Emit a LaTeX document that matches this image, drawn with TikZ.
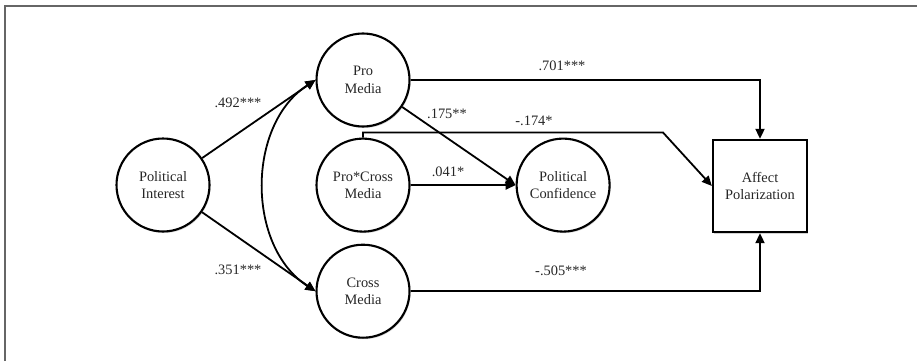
\documentclass[tikz,border=0pt]{standalone}
\usepackage{fontspec}
\setmainfont{Liberation Serif}
\usepackage{tikz}
\usetikzlibrary{arrows.meta,positioning,shadows}

\begin{document}
\begin{tikzpicture}[
    x=1pt, y=-1pt,
    font=\fontsize{14.4}{17.5}\selectfont,
    latent/.style={draw, circle, line width=2.1pt, minimum size=93pt, inner sep=0pt, align=center, fill=white,
        text=black!85, drop shadow={shadow xshift=1pt, shadow yshift=-1.5pt, opacity=0.35}},
    outcome/.style={draw, rectangle, line width=2.3pt, minimum width=94pt, minimum height=92pt, align=center, fill=white,
        text=black!85, drop shadow={shadow xshift=1pt, shadow yshift=-1.5pt, opacity=0.35}},
    arrow/.style={-{Triangle[length=10pt,width=9pt]}, line width=1.8pt},
    coef/.style={inner sep=1pt, text=black!85}
]
    \useasboundingbox (0,0) rectangle (917,361);
    \draw[line width=1.7pt, gray!80!black] (5,361) -- (5,6) -- (917,6);

    \node[latent] (interest) at (163,185) {Political\\Interest};
    \node[latent] (pro) at (363,80) {Pro\\Media};
    \node[latent, below=10pt of pro] (procross) {Pro*Cross\\Media};
    \node[latent, below=11pt of procross] (cross) {Cross\\Media};
    \node[latent, right=105pt of procross] (confidence) {Political\\Confidence};
    \node[outcome] (affect) at (760,186) {Affect\\Polarization};

    \coordinate (kink) at (663,132.5);

    \draw[arrow] (interest) -- (pro.west);
    \draw[arrow] (interest) -- (cross.west);
    \draw[{Triangle[length=10pt,width=9pt]}-{Triangle[length=10pt,width=9pt]}, line width=1.8pt]
        (pro.west) to[bend right=57] (cross.west);
    \draw[arrow] (pro.east) -| (affect.north);
    \draw[arrow] (pro) -- (confidence.west);
    \draw[arrow] (procross) -- (confidence);
    \draw[arrow] (procross.north) -- ++(0,-5) -- (kink) -- (affect.west);
    \draw[arrow] (cross.east) -| (affect.south);

    \node[coef] (c492) at (238,103) {.492***};
    \node[coef] (c351) at (238,270) {.351***};
    \node[coef] (c701) at (562,66) {.701***};
    \node[coef] (c175) at (447,114) {.175**};
    \node[coef] (c041) at (448,172) {.041*};
    \node[coef] (c174) at (534,121) {-.174*};
    \node[coef] (c505) at (561,271) {-.505***};
\end{tikzpicture}
\end{document}
